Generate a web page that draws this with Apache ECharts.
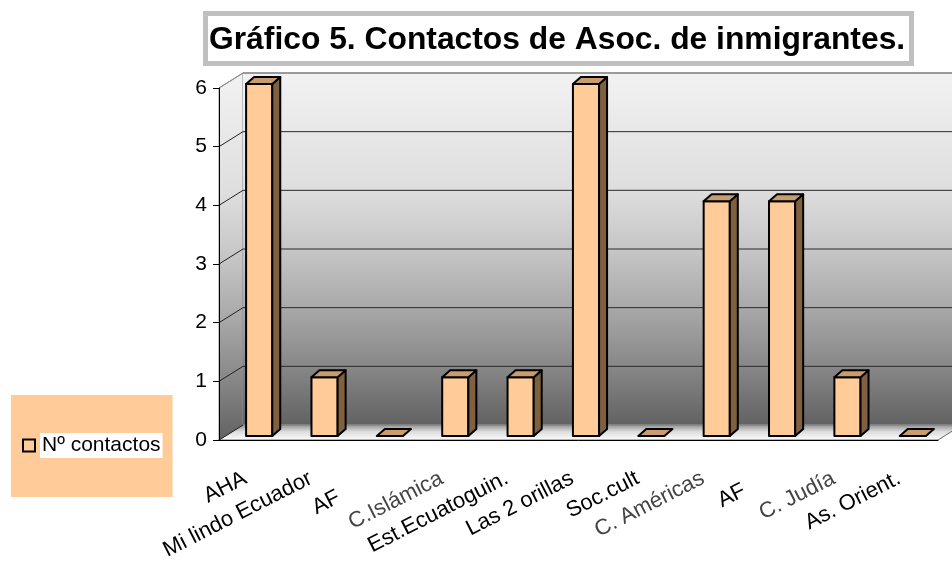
<!DOCTYPE html>
<html><head><meta charset="utf-8">
<script src="https://cdn.jsdelivr.net/npm/echarts@6/dist/echarts.min.js"></script>
<style>html,body{margin:0;padding:0;background:#fff}#c{width:952px;height:566px}</style>
</head><body><div id="c"></div>
<script>
// ---- data ----
const categories = ['AHA', 'Mi lindo Ecuador', 'AF', 'C.Islámica', 'Est.Ecuatoguin.', 'Las 2 orillas', 'Soc.cult', 'C. Américas', 'AF', 'C. Judía', 'As. Orient.'];
const contactos = [6, 1, 0, 1, 1, 6, 0, 4, 4, 1, 0];
const yTicks = [0, 1, 2, 3, 4, 5, 6];
const seriesName = 'Nº contactos';
const titleText = 'Gráfico 5. Contactos de Asoc. de inmigrantes.';

// ---- styling ----
const DX = 24, DY = -15;              // wall depth
const BAR_SX = 7.5, BAR_SY = -4;      // bar offset from front plane
const BAR_DX = 8, BAR_DY = -7;        // bar depth
const labelStyleByIndex = {
  2: { padding: [0, 49, 0, 0] },
  3: { color: '#444' },
  7: { color: '#444' },
  8: { padding: [0, 34, 0, 0] },
  9: { color: '#444' }
};
const xData = categories.map((c, i) => labelStyleByIndex[i] ? { value: c, textStyle: labelStyleByIndex[i] } : c);

const chart = echarts.init(document.getElementById('c'), null, { renderer: 'canvas' });

function wallGrad() {
  return new echarts.graphic.LinearGradient(0, 0, 0, 1, [
    { offset: 0, color: '#f2f2f2' },
    { offset: 0.33, color: '#dedede' },
    { offset: 0.5, color: '#c6c6c6' },
    { offset: 0.67, color: '#a8a8a8' },
    { offset: 0.83, color: '#888888' },
    { offset: 1, color: '#626262' }
  ]);
}

function renderWalls(params, api) {
  const cs = params.coordSys;
  const x0 = cs.x, y0 = cs.y, x1 = cs.x + cs.width, y1 = cs.y + cs.height;
  const children = [];
  children.push({ type: 'polygon', shape: { points: [[x0, y0], [x0 + DX, y0 + DY], [x0 + DX, y1 + DY], [x0, y1]] },
    style: { fill: wallGrad(), stroke: '#8a8a8a', lineWidth: 1 } });
  children.push({ type: 'rect', shape: { x: x0 + DX, y: y0 + DY, width: x1 - x0 + 20, height: y1 - y0 },
    style: { fill: wallGrad() } });
  children.push({ type: 'polygon', shape: { points: [[x0, y1], [x0 + DX, y1 + DY], [x1 + DX, y1 + DY], [x1, y1]] },
    style: { fill: new echarts.graphic.LinearGradient(0, 0, 0, 1, [
      { offset: 0, color: '#8e8e8e' }, { offset: 0.45, color: '#dcdcdc' }, { offset: 1, color: '#ffffff' }]),
      stroke: '#666', lineWidth: 1 } });
  yTicks.forEach(v => {
    const y = api.coord([0, v])[1];
    const top = v === yTicks[yTicks.length - 1];
    const col = top ? '#9a9a9a' : (v === 0 ? '#9a9a9a' : '#2a2a2a');
    children.push({ type: 'line', shape: { x1: x0 + DX, y1: y + DY, x2: x1 + DX + 20, y2: y + DY },
      style: { stroke: col, lineWidth: top ? 2 : 1 } });
    children.push({ type: 'line', shape: { x1: x0, y1: y, x2: x0 + DX, y2: y + DY },
      style: { stroke: top ? '#8a8a8a' : '#222', lineWidth: 1 } });
  });
  return { type: 'group', children };
}

function renderBar(params, api) {
  const i = api.value(0), v = api.value(1);
  const top = api.coord([i, v]);
  const base = api.coord([i, 0]);
  const bw = api.size([1, 0])[0];
  const w = bw * 0.4;
  const xl = top[0] + BAR_SX - w / 2, xr = xl + w;
  const yt = top[1] + BAR_SY, yb = base[1] + BAR_SY;
  const st = { stroke: '#000', lineWidth: 2, lineJoin: 'round' };
  const children = [];
  if (v > 0) {
    children.push({ type: 'polygon', shape: { points: [[xl, yt], [xr, yt], [xr, yb], [xl, yb]] },
      style: Object.assign({ fill: '#FFCC99' }, st) });
    children.push({ type: 'polygon', shape: { points: [[xr, yt], [xr + BAR_DX, yt + BAR_DY], [xr + BAR_DX, yb + BAR_DY], [xr, yb]] },
      style: Object.assign({ fill: '#80603f' }, st) });
  }
  children.push({ type: 'polygon', shape: { points: [[xl, yt], [xl + BAR_DX, yt + BAR_DY], [xr + BAR_DX, yt + BAR_DY], [xr, yt]] },
    style: Object.assign({ fill: '#c89c6e' }, st) });
  return { type: 'group', children };
}

chart.setOption({
  animation: false,
  backgroundColor: '#ffffff',
  grid: { left: 219, right: 14, top: 88, bottom: 126, containLabel: false },
  graphic: [
    { type: 'rect', shape: { x: 205.5, y: 13.5, width: 706, height: 50 },
      style: { fill: '#ffffff', stroke: '#c0c0c0', lineWidth: 5 }, z: 10 },
    { type: 'text', x: 209, y: 40, z: 11,
      style: { text: titleText, fontFamily: 'Liberation Sans', fontWeight: 'bold', fontSize: 31.8, fill: '#000',
        align: 'left', verticalAlign: 'middle' } }
  ],
  legend: {
    data: [seriesName], left: 11, top: 395, padding: [38, 10, 39, 11],
    backgroundColor: '#FFCC99', icon: 'rect', itemWidth: 12, itemHeight: 12,
    itemStyle: { color: '#FFCC99', borderColor: '#000', borderWidth: 2 },
    textStyle: { fontFamily: 'Liberation Sans', fontSize: 21, lineHeight: 21,
      color: '#000', backgroundColor: '#fff', padding: [2, 2, 2, 2] }
  },
  xAxis: {
    type: 'category', data: xData, boundaryGap: true, z: 10,
    axisLine: { lineStyle: { color: '#000', width: 1 } },
    axisTick: { length: 6, lineStyle: { color: '#000' } },
    axisLabel: { interval: 0, rotate: 27, margin: 34, fontFamily: 'Liberation Sans', fontSize: 22,
      color: '#000', padding: [0, 7, 0, 0] },
    splitLine: { show: false }
  },
  yAxis: {
    type: 'value', min: 0, max: 6, interval: 1, z: 10,
    axisLine: { show: true, lineStyle: { color: '#000', width: 1 } },
    axisTick: { show: true, length: 6, lineStyle: { color: '#000' } },
    axisLabel: { fontFamily: 'Liberation Sans', fontSize: 21, margin: 12, color: '#000' },
    splitLine: { show: false }
  },
  series: [
    { name: '__walls', type: 'custom', z: 1, silent: true, clip: false, renderItem: renderWalls,
      data: [[0, 0]], encode: { x: 0, y: 1 } },
    { name: seriesName, type: 'custom', z: 3, clip: false, renderItem: renderBar,
      itemStyle: { color: '#FFCC99', borderColor: '#000', borderWidth: 2 },
      data: contactos.map((v, i) => [i, v]), encode: { x: 0, y: 1 } }
  ]
});
</script></body></html>
